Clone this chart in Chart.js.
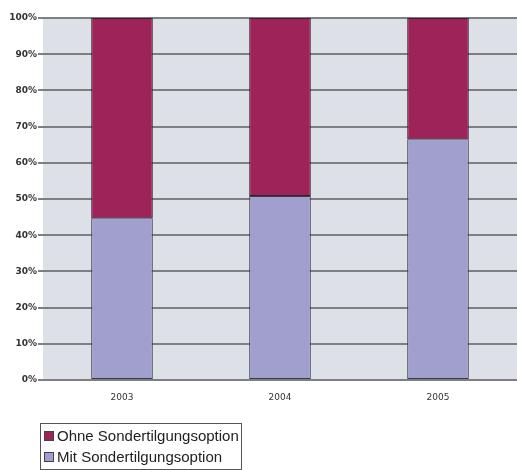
<!DOCTYPE html>
<html>
<head>
<meta charset="utf-8">
<script src="https://cdn.jsdelivr.net/npm/chart.js@4"></script>
<style>
  html, body { margin: 0; padding: 0; background: #fff; }
  #wrap { position: relative; width: 517px; height: 470px; overflow: hidden; }
  #legend {
    position: absolute; left: 40px; top: 423px;
    border: 1px solid #555; padding: 1px 2px 2px 3px;
    font-family: "Liberation Sans Narrow", "Liberation Sans", sans-serif;
    font-size: 15px; color: #222; line-height: 21px;
  }
  #legend .item { white-space: nowrap; }
  #legend .box {
    display: inline-block; width: 8px; height: 8px; margin-right: 3px;
    border: 1px solid #444; vertical-align: 0px;
  }
</style>
</head>
<body>
<div id="wrap">
  <canvas id="chart" width="517" height="470"></canvas>
  <div id="legend"></div>
</div>
<script>
var years = ['2003', '2004', '2005'];
var mitValues = [44.7, 50.8, 66.5];
var ohneValues = [55.3, 49.2, 33.5];
var yTicks = [0, 10, 20, 30, 40, 50, 60, 70, 80, 90, 100];

// grey plot background
var plotBg = {
  id: 'plotBg',
  beforeDraw: function (chart) {
    var a = chart.chartArea, ctx = chart.ctx;
    ctx.save();
    ctx.fillStyle = '#dde1e7';
    ctx.fillRect(a.left, a.top, a.right - a.left, a.bottom - a.top);
    ctx.restore();
  }
};

var chart = new Chart(document.getElementById('chart'), {
  type: 'bar',
  data: {
    labels: years,
    datasets: [{
      label: 'Mit Sondertilgungsoption',
      data: mitValues,
      backgroundColor: '#a09fcd',
      borderColor: '#3a3a4a',
      borderWidth: 1,
      borderSkipped: false
    }, {
      label: 'Ohne Sondertilgungsoption',
      data: ohneValues,
      backgroundColor: '#9e2358',
      borderColor: '#3a2030',
      borderWidth: 1,
      borderSkipped: false
    }]
  },
  options: {
    responsive: false,
    animation: false,
    layout: { padding: { top: 18, right: 0, bottom: 0, left: 0 } },
    plugins: { legend: { display: false }, tooltip: { enabled: false } },
    datasets: { bar: { categoryPercentage: 1, barPercentage: 0.39 } },
    scales: {
      x: {
        stacked: true,
        grid: { display: false },
        border: { display: false },
        ticks: { color: '#333', font: { family: 'DejaVu Sans', size: 9 }, padding: 4 },
        afterFit: function (s) { s.height = 90; }
      },
      y: {
        stacked: true,
        min: 0,
        max: 100,
        afterBuildTicks: function (s) { s.ticks = yTicks.map(function (v) { return { value: v }; }); },
        ticks: {
          color: '#333',
          font: { family: 'DejaVu Sans', size: 9, weight: 'bold' },
          padding: 1,
          callback: function (v) { return v + '%'; }
        },
        grid: { color: '#7d7f82', lineWidth: 2, tickLength: 5, drawTicks: true },
        border: { display: false },
        afterFit: function (s) { s.width = 43; }
      }
    }
  },
  plugins: [plotBg]
});

// legend, top series first
var legend = document.getElementById('legend');
chart.data.datasets.slice().reverse().forEach(function (ds) {
  var row = document.createElement('div');
  row.className = 'item';
  var sw = document.createElement('span');
  sw.className = 'box';
  sw.style.background = ds.backgroundColor;
  row.appendChild(sw);
  row.appendChild(document.createTextNode(ds.label));
  legend.appendChild(row);
});
</script>
</body>
</html>
